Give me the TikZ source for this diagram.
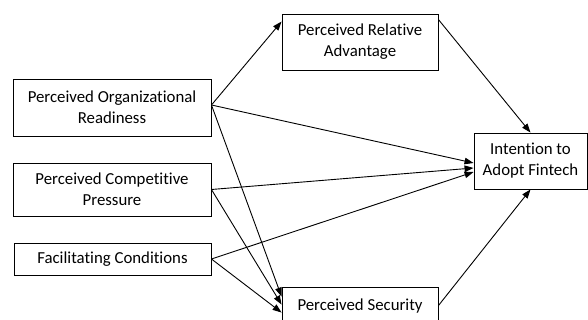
\documentclass[tikz,border=0pt]{standalone}
\usepackage{fontspec}
\setmainfont[Ligatures={NoCommon}]{Carlito}
\usetikzlibrary{arrows.meta}
\begin{document}
\begin{tikzpicture}[x=1pt,y=-1pt,
  box/.style={draw,line width=0.9pt,align=center,inner sep=2pt,font=\fontsize{16.8}{21}\selectfont},
  conn/.style={line width=0.9pt,-{Triangle[length=9pt,width=6.5pt]}}]
\clip (0,0) rectangle (588,320);
\node[box,minimum width=198pt,minimum height=57pt] (POR) at (112,107.5) {Perceived Organizational\\Readiness};
\node[box,minimum width=198pt,minimum height=53pt] (PCP) at (112,189.5) {Perceived Competitive\\Pressure};
\node[box,minimum width=197pt,minimum height=32pt] (FC) at (112.5,259) {Facilitating Conditions};
\node[box,minimum width=156pt,minimum height=56pt] (PRA) at (360,42) {Perceived Relative\\Advantage};
\node[box,minimum width=113pt,minimum height=56pt] (IAF) at (530.5,161) {Intention to\\Adopt Fintech};
\node[box,minimum width=156pt,minimum height=56pt] (PS) at (360,315) {Perceived Security\\ };
\coordinate (porS) at ([yshift=2.5pt]POR.east);
\draw[conn] (porS) -- ([yshift=-8pt]PRA.north west);
\draw[conn] (porS) -- ([yshift=-2pt]IAF.west);
\draw[conn] (porS) -- ([yshift=-10pt]PS.north west);
\draw[conn] (PCP.east) -- ([yshift=-7pt]IAF.west);
\draw[conn] (PCP.east) -- ([yshift=-18pt]PS.north west);
\draw[conn] (FC.east) -- ([yshift=-11pt]IAF.west);
\draw[conn] (FC.east) -- ([yshift=-26pt]PS.north west);
\draw[conn] ([yshift=-6pt]PRA.north east) -- (IAF.north);
\draw[conn] ([yshift=-19pt]PS.north east) -- (IAF.south);
\end{tikzpicture}
\end{document}
